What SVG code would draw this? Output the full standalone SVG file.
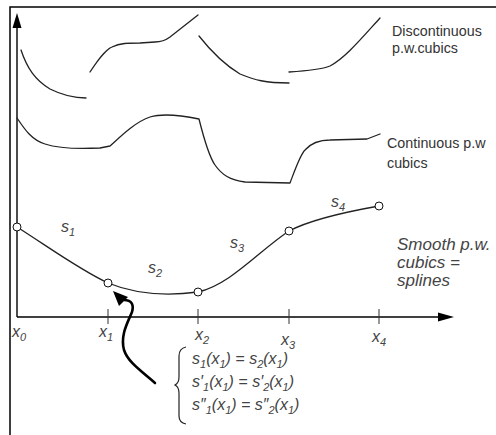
<svg xmlns="http://www.w3.org/2000/svg" width="496" height="435" viewBox="0 0 496 435">
<style>
.frame{fill:none;stroke:#000;stroke-width:1.5}
.axis{fill:none;stroke:#000;stroke-width:1.4}
.tick{stroke:#333;stroke-width:1}
.curve{fill:none;stroke:#222;stroke-width:1.3;stroke-linejoin:round;stroke-linecap:round}
.knot{fill:#fff;stroke:#111;stroke-width:1}
.lbl{font-family:"Liberation Sans",Arial,sans-serif;font-size:14.3px;fill:#333}
.math{font-family:"Liberation Sans",Arial,sans-serif;font-size:16px;font-style:italic;fill:#444}
.big{font-family:"Liberation Sans",Arial,sans-serif;font-size:17px;font-style:italic;fill:#444}
.sub{font-size:11px}
</style>
<g id="frame">
<path class="frame" d="M10,435 L10,7 L496,7"/>
</g>
<g id="axes">
<line class="axis" x1="17" y1="317" x2="17" y2="26"/>
<path d="M17,13 L21.5,28 L12.5,28 Z" fill="#000"/>
<line class="axis" x1="17" y1="317" x2="440" y2="317"/>
<path d="M454,317 L438,312.5 L438,321.5 Z" fill="#000"/>
<line class="tick" x1="108" y1="309" x2="108" y2="324"/>
<line class="tick" x1="198" y1="309" x2="198" y2="324"/>
<line class="tick" x1="289" y1="309" x2="289" y2="324"/>
<line class="tick" x1="379" y1="309" x2="379" y2="324"/>
<text class="math" x="12" y="337">x<tspan class="sub" dy="4">0</tspan></text>
<text class="math" x="99" y="337">x<tspan class="sub" dy="4">1</tspan></text>
<text class="math" x="195" y="340">x<tspan class="sub" dy="4">2</tspan></text>
<text class="math" x="281" y="345">x<tspan class="sub" dy="4">3</tspan></text>
<text class="math" x="372" y="342">x<tspan class="sub" dy="4">4</tspan></text>
</g>
<g id="discontinuous">
<path class="curve" d="M21,50 C27,68 35,80 50,89 C62,95 75,98 86,98"/>
<path class="curve" d="M90,72 C98,60 105,50 112,47 C120,43 128,43 140,43 L155,42 C162,42 166,40 170,37 L198,15"/>
<path class="curve" d="M199,36 C210,50 225,65 240,74 C255,80 265,83 289,83"/>
<path class="curve" d="M289,72 C305,71 320,70 330,66 C345,58 360,40 380,18"/>
<text class="lbl" x="392" y="36">Discontinuous</text>
<text class="lbl" x="392" y="53">p.w.cubics</text>
</g>
<g id="continuous">
<path class="curve" d="M17,118 C25,130 32,140 45,144 C60,149 80,149 100,148 L110,146 C120,137 135,122 150,117 C160,114 175,114 199,119 C203,135 208,155 215,165 C222,175 230,180 245,182 L290,183 C295,170 300,155 305,150 C312,142 320,140 330,140 L367,139 L380,134"/>
<text class="lbl" x="387" y="148">Continuous p.w</text>
<text class="lbl" x="387" y="168">cubics</text>
</g>
<g id="spline">
<path class="curve" d="M17,227 C50,248 80,270 108,283 C130,292 160,297 198,292 C230,285 260,250 289,231 C310,220 345,212 379,206"/>
<circle class="knot" cx="17" cy="227" r="4"/>
<circle class="knot" cx="108" cy="283" r="4"/>
<circle class="knot" cx="198" cy="292" r="4"/>
<circle class="knot" cx="289" cy="231" r="4"/>
<circle class="knot" cx="379" cy="206" r="4"/>
<text class="math" x="61" y="232">s<tspan class="sub" dy="4">1</tspan></text>
<text class="math" x="148" y="273">s<tspan class="sub" dy="4">2</tspan></text>
<text class="math" x="230" y="248">s<tspan class="sub" dy="4">3</tspan></text>
<text class="math" x="331" y="207">s<tspan class="sub" dy="4">4</tspan></text>
<text class="big" x="397" y="250">Smooth p.w.</text>
<text class="big" x="397" y="268">cubics =</text>
<text class="big" x="397" y="286">splines</text>
</g>
<g id="connectors">
<path d="M155,383 C140,370 128,362 124,350 C120,335 128,322 132,312 C134,305 132,300 124,300" fill="none" stroke="#000" stroke-width="2.6" stroke-linecap="round"/>
<path d="M113,291 L119,306 L128,297 Z" fill="#000"/>
</g>
<g id="conditions">
<path d="M186,347 C181,348 179,351 179,356 L179,377 C179,382 177,384 175,385 C177,386 179,388 179,393 L179,416 C179,421 181,423 186,424" fill="none" stroke="#222" stroke-width="1.2"/>
<text class="math" x="192" y="364">s<tspan class="sub" dy="4">1</tspan><tspan dy="-4">(x</tspan><tspan class="sub" dy="4">1</tspan><tspan dy="-4">) = s</tspan><tspan class="sub" dy="4">2</tspan><tspan dy="-4">(x</tspan><tspan class="sub" dy="4">1</tspan><tspan dy="-4">)</tspan></text>
<text class="math" x="192" y="387">s′<tspan class="sub" dy="4">1</tspan><tspan dy="-4">(x</tspan><tspan class="sub" dy="4">1</tspan><tspan dy="-4">) = s′</tspan><tspan class="sub" dy="4">2</tspan><tspan dy="-4">(x</tspan><tspan class="sub" dy="4">1</tspan><tspan dy="-4">)</tspan></text>
<text class="math" x="192" y="410">s″<tspan class="sub" dy="4">1</tspan><tspan dy="-4">(x</tspan><tspan class="sub" dy="4">1</tspan><tspan dy="-4">) = s″</tspan><tspan class="sub" dy="4">2</tspan><tspan dy="-4">(x</tspan><tspan class="sub" dy="4">1</tspan><tspan dy="-4">)</tspan></text>
</g>
</svg>
